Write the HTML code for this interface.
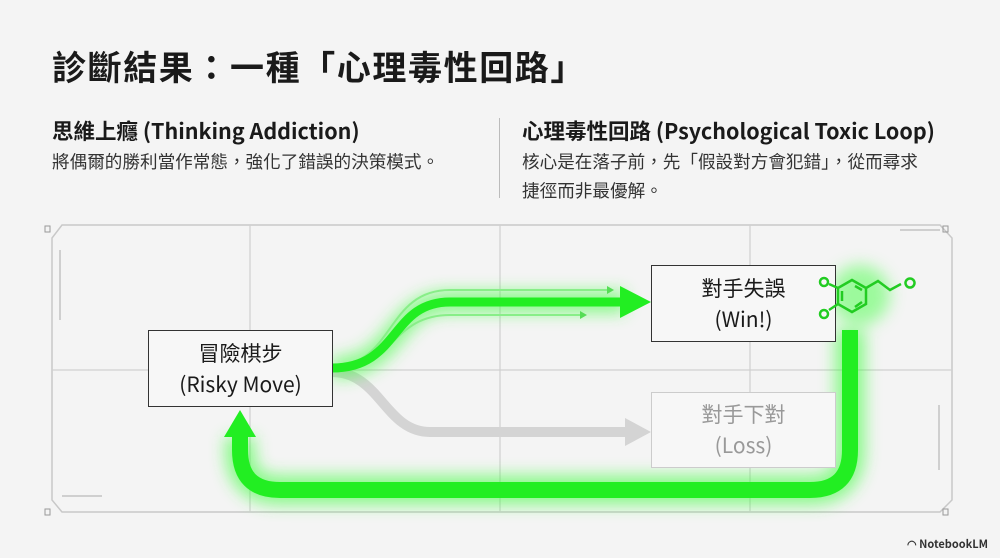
<!DOCTYPE html>
<html><head><meta charset="utf-8"><style>
body{margin:0;width:1000px;height:558px;background:#f4f4f4;font-family:"Noto Sans CJK TC","Liberation Sans",sans-serif;color:#1a1a1a;position:relative;overflow:hidden}
.t{position:absolute;white-space:nowrap}
h1{position:absolute;left:52px;top:42px;margin:0;font-size:34px;line-height:48px;font-weight:bold;letter-spacing:1.6px}
.h{font-size:21.5px;line-height:28px;font-weight:bold}
.p{font-size:17.6px;line-height:29px;color:#333}
.box{position:absolute;border:1.5px solid #333;background:#f7f7f7;text-align:center;font-size:21px;line-height:31px;display:flex;align-items:center;justify-content:center;box-sizing:border-box}
</style></head><body>
<h1>診斷結果：一種「心理毒性回路」</h1>
<div class="t h" style="left:52px;top:117px">思維上癮 (Thinking Addiction)</div>
<div class="t p" style="left:52px;top:147px">將偶爾的勝利當作常態，強化了錯誤的決策模式。</div>
<div style="position:absolute;left:499px;top:118px;width:1px;height:80px;background:#bbb"></div>
<div class="t h" style="left:522px;top:117px">心理毒性回路 (Psychological Toxic Loop)</div>
<div class="t p" style="left:522px;top:147px">核心是在落子前，先「假設對方會犯錯」，從而尋求<br>捷徑而非最優解。</div>
<svg width="1000" height="558" style="position:absolute;left:0;top:0">
<defs><filter id="g" x="-50%" y="-50%" width="200%" height="200%"><feGaussianBlur stdDeviation="8"/></filter></defs>
<path d="M62 225H940L952 238V500L940 512H62L52 500V238Z" fill="none" stroke="#c8c8c8" stroke-width="1.5"/>
<g stroke="#d0d0d0" stroke-width="1.2"><line x1="250" y1="225" x2="250" y2="512"/><line x1="500" y1="225" x2="500" y2="512"/><line x1="750" y1="225" x2="750" y2="512"/><line x1="52" y1="370" x2="952" y2="370"/></g>
<g fill="none" stroke="#999" stroke-width="1"><rect x="45" y="226" width="5" height="6"/><rect x="943" y="226" width="5" height="6"/><rect x="45" y="509" width="5" height="6"/><rect x="943" y="509" width="5" height="6"/></g>
<g stroke="#aaa" stroke-width="1"><line x1="60" y1="250" x2="60" y2="320"/><line x1="900" y1="230" x2="940" y2="230"/><line x1="62" y1="496" x2="102" y2="496"/><line x1="939" y1="405" x2="939" y2="470"/></g>
<path d="M332 372C380 372 385 432 430 432H625" fill="none" stroke="#d4d4d4" stroke-width="10"/>
<path d="M625 418L651 432L625 446Z" fill="#d4d4d4"/>
<g filter="url(#g)" opacity=".55"><path d="M332 368C400 368 390 302 450 302H625" fill="none" stroke="#3f3" stroke-width="22"/>
<path d="M850 330V450Q850 490 810 490H280Q240 490 240 450V437" fill="none" stroke="#3f3" stroke-width="30"/>
<circle cx="860" cy="295" r="30" fill="#5f5"/></g>
<path d="M332 366C395 366 385 290 450 290H612" fill="none" stroke="#8e8" stroke-width="2"/>
<path d="M332 370C395 370 390 315 450 315H585" fill="none" stroke="#8e8" stroke-width="2"/>
<path d="M607 286L614 290L607 294Z" fill="#5d5"/><path d="M580 311L587 315L580 319Z" fill="#5d5"/>
<path d="M332 368C400 368 390 302 450 302H625" fill="none" stroke="#2e2" stroke-width="9"/>
<path d="M620 286L651 302L620 318Z" fill="#2e2"/>
<path d="M850 330V450Q850 490 810 490H280Q240 490 240 450V437" fill="none" stroke="#2e2" stroke-width="16"/>
<path d="M224 437L240 410L256 437Z" fill="#2e2"/>
</svg>
<div class="box" style="left:148px;top:330px;width:185px;height:77px">冒險棋步<br>(Risky Move)</div>
<div class="box" style="left:651px;top:265px;width:185px;height:77px">對手失誤<br>(Win!)</div>
<div class="box" style="left:651px;top:392px;width:185px;height:76px;border-color:#ccc;color:#999">對手下對<br>(Loss)</div>
<svg width="1000" height="558" style="position:absolute;left:0;top:0">
<g fill="none" stroke="#2c2" stroke-width="2.5">
<path d="M852 280L866 288V304L852 312L838 304V288Z"/><path d="M855 286L862 290M862 302L855 307M842 291V301"/>
<path d="M866 288L878 281L890 290L901 284"/><path d="M838 288L829 284M838 304L829 310"/>
<circle cx="824" cy="282" r="4"/><circle cx="824" cy="314" r="4"/><circle cx="910" cy="283" r="4.5"/></g>
</svg>
<div class="t" style="right:12px;bottom:6px;font-size:11px;font-weight:bold;color:#333">◠ NotebookLM</div>
</body></html>
